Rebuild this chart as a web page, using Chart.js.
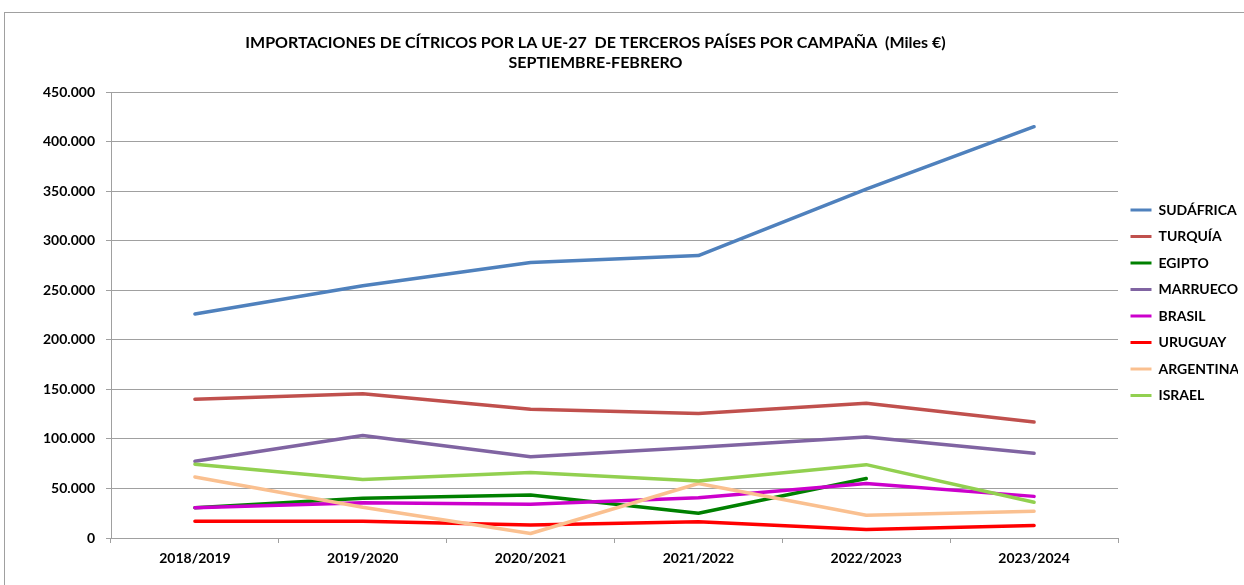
<!DOCTYPE html>
<html><head><meta charset="utf-8">
<script src="https://cdn.jsdelivr.net/npm/chart.js@4.4.1/dist/chart.umd.min.js"></script>
<style>
html,body{margin:0;padding:0;background:#fff;overflow:hidden;width:1244px;height:585px}
#frame{position:absolute;left:4px;top:12px;width:1300px;height:600px;border-top:1px solid #a0a0a0;border-left:1px solid #a0a0a0}
#wrap{position:absolute;left:0;top:0;width:1260px;height:572px}
</style></head><body>
<div id="frame"><div id="wrap"><canvas id="c"></canvas></div></div>
<script>
const titleLines = ['IMPORTACIONES DE CÍTRICOS POR LA UE-27  DE TERCEROS PAÍSES POR CAMPAÑA  (Miles €)', 'SEPTIEMBRE-FEBRERO'];
const categories = ['2018/2019', '2019/2020', '2020/2021', '2021/2022', '2022/2023', '2023/2024'];
const seriesNames = ['SUDÁFRICA', 'TURQUÍA', 'EGIPTO', 'MARRUECOS', 'BRASIL', 'URUGUAY', 'ARGENTINA', 'ISRAEL'];
const sudafrica = [226000, 254500, 278000, 285000, 352000, 415000];
const turquia   = [140000, 145500, 130000, 125500, 136000, 117000];
const egipto    = [30500, 40000, 43500, 25000, 60000, null];
const marruecos = [77500, 103500, 82000, 91500, 102000, 85500];
const brasil    = [30500, 35500, 34000, 40500, 55000, 42000];
const uruguay   = [17000, 17000, 13000, 16500, 8500, 12500];
const argentina = [61500, 31000, 4500, 55000, 23000, 27000];
const israel    = [74500, 59000, 66000, 57500, 74000, 36000];
const yMin = 0, yMax = 450000, yStep = 50000;

const seriesValues = [sudafrica, turquia, egipto, marruecos, brasil, uruguay, argentina, israel];
const seriesColors = ['#4F81BD', '#C0504D', '#008000', '#8064A2', '#CC00CC', '#FF0000', '#FAC090', '#92D050'];
const FONT = 'Lato';

function fmt(v) { return String(v).replace(/\B(?=(\d{3})+(?!\d))/g, '.'); }

const titlePlugin = {
  id: 'excelTitle',
  afterDraw(chart) {
    const ctx = chart.ctx;
    ctx.save();
    ctx.fillStyle = '#000';
    ctx.font = 'bold 16px ' + FONT;
    ctx.textAlign = 'center';
    ctx.textBaseline = 'middle';
    const cx = chart.chartArea.left + (chart.chartArea.right - chart.chartArea.left) / 2 - 19;
    ctx.fillText(titleLines[0], cx, 30);
    ctx.fillText(titleLines[1], cx, 50);
    ctx.restore();
  }
};

const n = seriesNames.length;
const datasets = seriesNames.map((name, i) => ({
  label: name,
  data: seriesValues[i],
  borderColor: seriesColors[i],
  backgroundColor: seriesColors[i],
  borderWidth: 3.5,
  pointRadius: 0,
  pointHoverRadius: 0,
  tension: 0,
  borderCapStyle: 'round',
  borderJoinStyle: 'round',
  order: n - i
}));

new Chart(document.getElementById('c'), {
  type: 'line',
  data: { labels: categories, datasets },
  plugins: [titlePlugin],
  options: {
    responsive: true,
    maintainAspectRatio: false,
    animation: false,
    devicePixelRatio: 1,
    layout: { padding: { top: 79, right: 27, left: 0, bottom: 0 } },
    plugins: {
      title: { display: false },
      tooltip: { enabled: false },
      legend: {
        position: 'right',
        align: 'start',
        maxWidth: 120,
        title: { display: true, text: ' ', font: { size: 10 }, padding: { top: 0, bottom: 86.5 } },
        labels: {
          boxWidth: 21,
          boxHeight: 3,
          padding: 12.5,
          color: '#000',
          font: { family: FONT, size: 14, weight: 'bold' },
          sort: (a, b) => a.datasetIndex - b.datasetIndex,
          generateLabels(chart) {
            const items = Chart.defaults.plugins.legend.labels.generateLabels(chart);
            items.forEach(it => { it.lineWidth = 0; it.strokeStyle = 'rgba(0,0,0,0)'; });
            return items;
          }
        }
      }
    },
    scales: {
      x: {
        offset: true,
        grid: { offset: true, drawOnChartArea: false, drawTicks: true, tickLength: 5, color: '#a0a0a0' },
        border: { display: true, color: '#a0a0a0' },
        ticks: { color: '#000', font: { family: FONT, size: 14, weight: 'bold' }, padding: 7, maxRotation: 0 },
        afterFit(s) { s.height = 47; }
      },
      y: {
        min: yMin, max: yMax,
        grid: { color: '#a0a0a0', lineWidth: 1, drawTicks: true, tickLength: 5 },
        border: { display: true, color: '#a0a0a0' },
        ticks: { stepSize: yStep, color: '#000', font: { family: FONT, size: 14, weight: 'bold' }, padding: 11, callback: v => fmt(v) },
        afterFit(s) { s.width = 106; }
      }
    }
  }
});
</script>
</body></html>
